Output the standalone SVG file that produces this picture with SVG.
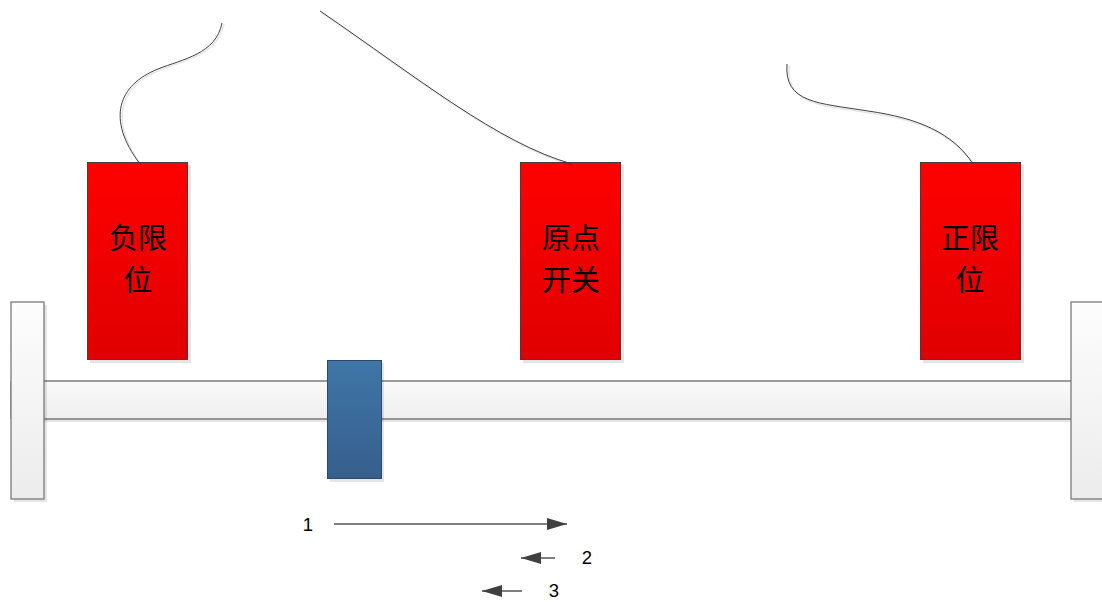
<svg xmlns="http://www.w3.org/2000/svg" width="1102" height="602" viewBox="0 0 1102 602">
<style>
.shadow{fill:#000;opacity:0.1}
.plate{fill:url(#gPlate);stroke:#7a7a7a;stroke-width:1.3}
.red{fill:url(#gRed);stroke:#404040;stroke-width:1}
.lbl{font-family:"Noto Sans CJK SC","Noto Sans",sans-serif;font-size:29px;fill:#000;text-anchor:middle}
.num{font-family:"Liberation Sans","Noto Sans",sans-serif;font-size:18.5px;fill:#000;text-anchor:middle}
.wire{fill:none;stroke:#404040;stroke-width:1}
.wireS{fill:none;stroke:#000;stroke-opacity:0.1;stroke-width:1.5}
.arr{stroke:#7f7f7f;stroke-width:1.8;fill:none}
</style>
<defs>
<linearGradient id="gRed" x1="0" y1="0" x2="0" y2="1"><stop offset="0" stop-color="#ff0000"/><stop offset="1" stop-color="#e00000"/></linearGradient>
<linearGradient id="gBlue" x1="0" y1="0" x2="0" y2="1"><stop offset="0" stop-color="#3f76a8"/><stop offset="1" stop-color="#365f8c"/></linearGradient>
<linearGradient id="gPlate" x1="0" y1="0" x2="0" y2="1"><stop offset="0" stop-color="#fdfdfd"/><stop offset="1" stop-color="#ececec"/></linearGradient>
<linearGradient id="gRail" x1="0" y1="0" x2="0" y2="1"><stop offset="0" stop-color="#fafafa"/><stop offset="1" stop-color="#eeeeee"/></linearGradient>
<marker id="ah" viewBox="0 0 20 12" refX="20" refY="6" markerWidth="20" markerHeight="12" markerUnits="userSpaceOnUse" orient="auto"><path d="M0,0 L20,6 L0,12 Z" fill="#404040"/></marker>
</defs>

<g id="rail">
<rect class="shadow" x="14" y="384" width="1088" height="38"/>
<rect x="11" y="381" width="1091" height="38" fill="url(#gRail)"/>
<line x1="11" y1="381" x2="1102" y2="381" stroke="#7a7a7a" stroke-width="1.3"/>
<line x1="11" y1="419" x2="1102" y2="419" stroke="#7a7a7a" stroke-width="1.3"/>
<line x1="11" y1="381" x2="11" y2="419" stroke="#7a7a7a" stroke-width="1.3"/>
</g>

<g id="plate-left">
<rect class="shadow" x="14" y="305" width="33" height="197"/>
<rect class="plate" x="11" y="302" width="33" height="197"/>
</g>

<g id="plate-right">
<rect class="shadow" x="1074" y="305" width="33" height="197"/>
<rect class="plate" x="1071" y="302" width="33" height="197"/>
</g>

<g id="slider">
<rect class="shadow" x="330" y="363" width="54" height="119"/>
<rect x="327.5" y="360.5" width="54" height="118" fill="url(#gBlue)" stroke="#2e4a6a" stroke-width="1"/>
</g>

<g id="neg-limit">
<rect class="shadow" x="90" y="165" width="101" height="198"/>
<rect class="red" x="87.5" y="162.5" width="100" height="197"/>
<text class="lbl" x="138" y="249">负限</text>
<text class="lbl" x="138" y="291">位</text>
</g>

<g id="origin-switch">
<rect class="shadow" x="523" y="165" width="101" height="198"/>
<rect class="red" x="520.5" y="162.5" width="100" height="197"/>
<text class="lbl" x="571" y="249">原点</text>
<text class="lbl" x="571" y="291">开关</text>
</g>

<g id="pos-limit">
<rect class="shadow" x="923" y="165" width="101" height="198"/>
<rect class="red" x="920.5" y="162.5" width="100" height="197"/>
<text class="lbl" x="970" y="249">正限</text>
<text class="lbl" x="970" y="291">位</text>
</g>

<g id="connectors">
<path class="wireS" d="M224,24 C218,55 185,60 160,70 C120,86 108,120 142,166"/>
<path class="wire" d="M222,23 C216,54 183,59 158,69 C118,85 106,119 140,164"/>
<path class="wireS" d="M322,13 C420,80 500,145 574,166"/>
<path class="wire" d="M320,11 C418,78 498,143 572,164"/>
<path class="wireS" d="M789,66 C786,105 820,105 870,113 C920,120 955,135 975,166"/>
<path class="wire" d="M787,64 C784,103 818,103 868,111 C918,118 953,133 973,164"/>
<line class="arr" x1="334" y1="524" x2="567" y2="524" marker-end="url(#ah)"/>
<line class="arr" x1="555" y1="558" x2="521" y2="558" marker-end="url(#ah)"/>
<line class="arr" x1="522" y1="591" x2="482" y2="591" marker-end="url(#ah)"/>
</g>

<text class="num" x="308" y="531">1</text>
<text class="num" x="587" y="564">2</text>
<text class="num" x="554" y="597">3</text>
</svg>
